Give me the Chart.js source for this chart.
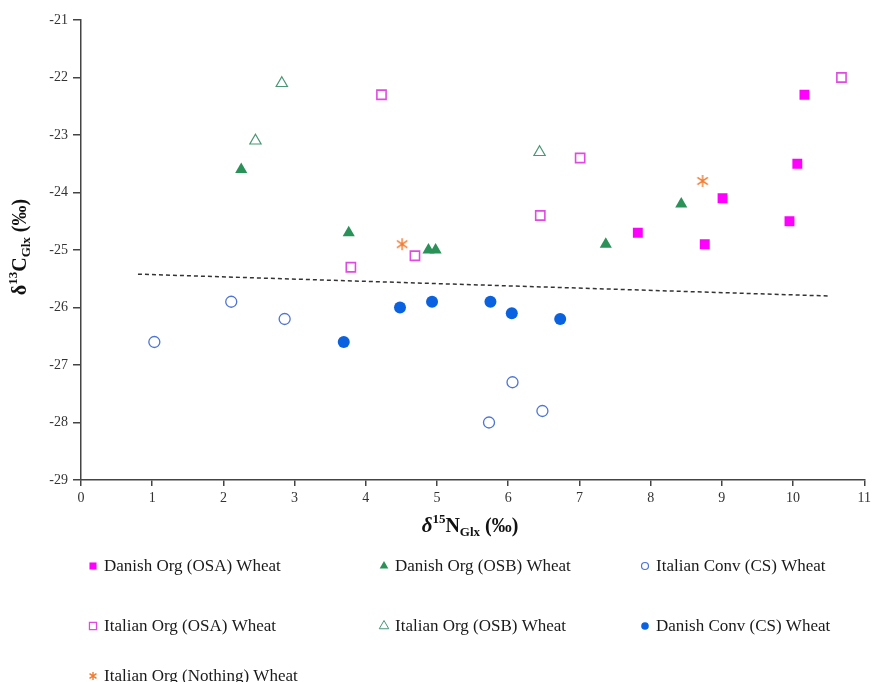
<!DOCTYPE html>
<html>
<head>
<meta charset="utf-8">
<script src="https://cdn.jsdelivr.net/npm/chart.js@4.4.0/dist/chart.umd.min.js"></script>
<style>
  html, body { margin: 0; padding: 0; background: #fff; }
  #wrap { width: 875px; height: 682px; }
</style>
</head>
<body>
<div id="wrap"><canvas id="isoChart"></canvas></div>
<script>
// glutamate isotope values per wheat group
const danishOsaX = [7.82, 8.76, 9.01, 9.95, 10.06, 10.16];
const danishOsaY = [-24.7, -24.9, -24.1, -24.5, -23.5, -22.3];

const danishOsbX = [2.25, 3.76, 4.88, 4.98, 7.37, 8.43];
const danishOsbY = [-23.6, -24.7, -25.0, -25.0, -24.9, -24.2];

const italianCsX = [1.03, 2.11, 2.86, 5.73, 6.06, 6.48];
const italianCsY = [-26.6, -25.9, -26.2, -28.0, -27.3, -27.8];

const italianOsaX = [3.79, 4.22, 4.69, 6.45, 7.01, 10.68];
const italianOsaY = [-25.3, -22.3, -25.1, -24.4, -23.4, -22.0];

const italianOsbX = [2.45, 2.82, 6.44];
const italianOsbY = [-23.1, -22.1, -23.3];

const danishCsX = [3.69, 4.48, 4.93, 5.75, 6.05, 6.73];
const danishCsY = [-26.6, -26.0, -25.9, -25.9, -26.1, -26.2];

const italianNothingX = [4.51, 8.73];
const italianNothingY = [-24.9, -23.8];

// fitted trend line
const trendX = [0.8, 10.5];
const trendY = [-25.42, -25.8];

const xTicks = [0, 11];
const yTicks = [-29, -21];

function pts(xs, ys) {
    return xs.map((x, i) => ({ x: x, y: ys[i] }));
}

// six-armed asterisk marker
function makeAsterisk(size, color) {
    var c = document.createElement('canvas');
    c.width = size; c.height = size;
    var g = c.getContext('2d');
    g.strokeStyle = color;
    g.lineWidth = 1.4;
    var m = size / 2, r = size / 2 - 1;
    g.beginPath();
    g.moveTo(m, m - r); g.lineTo(m, m + r);
    g.moveTo(m - r * 0.87, m - r * 0.6); g.lineTo(m + r * 0.87, m + r * 0.6);
    g.moveTo(m + r * 0.87, m - r * 0.6); g.lineTo(m - r * 0.87, m + r * 0.6);
    g.stroke();
    return c;
}
const starBig = makeAsterisk(14, '#f07b2e');
const starSmall = makeAsterisk(10, '#f07b2e');

const datasets = [
    { label: 'Danish Org (OSA) Wheat', data: pts(danishOsaX, danishOsaY),
      pointStyle: 'rect', pointRadius: 7, backgroundColor: '#ff00ff', borderColor: '#ff00ff', borderWidth: 0,
      legend: { style: 'rect', r: 5, fill: '#ff00ff', stroke: '#ff00ff', bw: 0 } },
    { label: 'Danish Org (OSB) Wheat', data: pts(danishOsbX, danishOsbY),
      pointStyle: 'triangle', pointRadius: 7, backgroundColor: '#2a9158', borderColor: '#2a9158', borderWidth: 0,
      legend: { style: 'triangle', r: 5, fill: '#2a9158', stroke: '#2a9158', bw: 0 } },
    { label: 'Italian Conv (CS) Wheat', data: pts(italianCsX, italianCsY),
      pointStyle: 'circle', pointRadius: 5.5, backgroundColor: '#ffffff', borderColor: '#4d74d6', borderWidth: 1.3,
      legend: { style: 'circle', r: 3.5, fill: '#ffffff', stroke: '#4d74d6', bw: 1.2 } },
    { label: 'Italian Org (OSA) Wheat', data: pts(italianOsaX, italianOsaY),
      pointStyle: 'rect', pointRadius: 6.5, backgroundColor: '#ffffff', borderColor: '#e04ae0', borderWidth: 1.6,
      legend: { style: 'rect', r: 5, fill: '#ffffff', stroke: '#e04ae0', bw: 1.3 } },
    { label: 'Italian Org (OSB) Wheat', data: pts(italianOsbX, italianOsbY),
      pointStyle: 'triangle', pointRadius: 6.5, backgroundColor: '#ffffff', borderColor: '#4a9676', borderWidth: 1.2,
      legend: { style: 'triangle', r: 5.5, fill: '#ffffff', stroke: '#4a9676', bw: 1 } },
    { label: 'Danish Conv (CS) Wheat', data: pts(danishCsX, danishCsY),
      pointStyle: 'circle', pointRadius: 6, backgroundColor: '#0a62e0', borderColor: '#0a62e0', borderWidth: 0,
      legend: { style: 'circle', r: 3.8, fill: '#0a62e0', stroke: '#0a62e0', bw: 0 } },
    { label: 'Italian Org (Nothing) Wheat', data: pts(italianNothingX, italianNothingY),
      pointStyle: starBig, pointRadius: 7, backgroundColor: '#f07b2e', borderColor: '#f07b2e', borderWidth: 0,
      legend: { style: starSmall, r: 5, fill: '#f07b2e', stroke: '#f07b2e', bw: 0 } },
    { label: 'trend', type: 'line', data: pts(trendX, trendY), showLine: true,
      borderColor: '#333333', borderWidth: 1.5, borderDash: [4, 3], pointRadius: 0, fill: false }
];

const serif = '"Liberation Serif", "Times New Roman", serif';

// draw a run of text pieces with sup/subscripts, centred on (cx, cy)
function drawRich(ctx, parts, cx, cy, rotate) {
    ctx.save();
    ctx.translate(cx, cy);
    if (rotate) ctx.rotate(-Math.PI / 2);
    ctx.textBaseline = 'alphabetic';
    ctx.fillStyle = '#111';
    var total = 0;
    parts.forEach(p => { ctx.font = p.font; total += ctx.measureText(p.t).width; });
    var x = -total / 2;
    parts.forEach(p => {
        ctx.font = p.font;
        ctx.fillText(p.t, x, 6 + (p.dy || 0));
        x += ctx.measureText(p.t).width;
    });
    ctx.restore();
}

const extras = {
    id: 'extras',
    afterDraw(chart) {
        const ctx = chart.ctx;
        const big = 'bold 20px ' + serif;
        const small = 'bold 13px ' + serif;
        const delta = 'italic bold 21px ' + serif;
        drawRich(ctx, [
            { t: 'δ', font: delta }, { t: '15', font: small, dy: -9 }, { t: 'N', font: big },
            { t: 'Glx', font: small, dy: 4 }, { t: ' (‰)', font: big }
        ], 470, 526, false);
        drawRich(ctx, [
            { t: 'δ', font: 'bold 20px ' + serif }, { t: '13', font: small, dy: -9 }, { t: 'C', font: big },
            { t: 'Glx', font: small, dy: 4 }, { t: ' (‰)', font: big }
        ], 20, 247, true);

        // legend in three columns under the axis
        const cols = [93, 384, 645];
        const rows = [566, 626, 676];
        let i = 0;
        chart.data.datasets.forEach(ds => {
            if (!ds.legend) return;
            const lx = cols[i % 3], ly = rows[Math.floor(i / 3)];
            const lg = ds.legend;
            ctx.save();
            ctx.fillStyle = lg.fill;
            ctx.strokeStyle = lg.stroke;
            ctx.lineWidth = lg.bw;
            Chart.helpers.drawPoint(ctx, { pointStyle: lg.style, radius: lg.r, rotation: 0, borderWidth: lg.bw }, lx, ly);
            ctx.restore();
            ctx.save();
            ctx.font = '17px ' + serif;
            ctx.fillStyle = '#1a1a1a';
            ctx.textBaseline = 'middle';
            ctx.fillText(ds.label, lx + 11, ly + 1);
            ctx.restore();
            i++;
        });
    }
};

new Chart(document.getElementById('isoChart'), {
    type: 'scatter',
    data: { datasets: datasets },
    options: {
        responsive: true,
        maintainAspectRatio: false,
        animation: false,
        layout: { padding: { top: 20, right: 8, left: 0, bottom: 0 } },
        plugins: {
            legend: { display: false },
            tooltip: { enabled: false }
        },
        scales: {
            x: {
                type: 'linear',
                min: xTicks[0], max: xTicks[1],
                afterFit(scale) { scale.height = 202; },
                ticks: { stepSize: 1, color: '#333', font: { family: serif, size: 14 }, padding: 4 },
                grid: { drawOnChartArea: false, tickLength: 6, color: '#444', lineWidth: 1.5 },
                border: { color: '#444', width: 1.5 }
            },
            y: {
                type: 'linear',
                min: yTicks[0], max: yTicks[1],
                afterFit(scale) { scale.width = 81; },
                ticks: { stepSize: 1, color: '#333', font: { family: serif, size: 14 }, padding: 5 },
                grid: { drawOnChartArea: false, tickLength: 8, color: '#444', lineWidth: 1.5 },
                border: { color: '#444', width: 1.5 }
            }
        }
    },
    plugins: [extras]
});
</script>
</body>
</html>
